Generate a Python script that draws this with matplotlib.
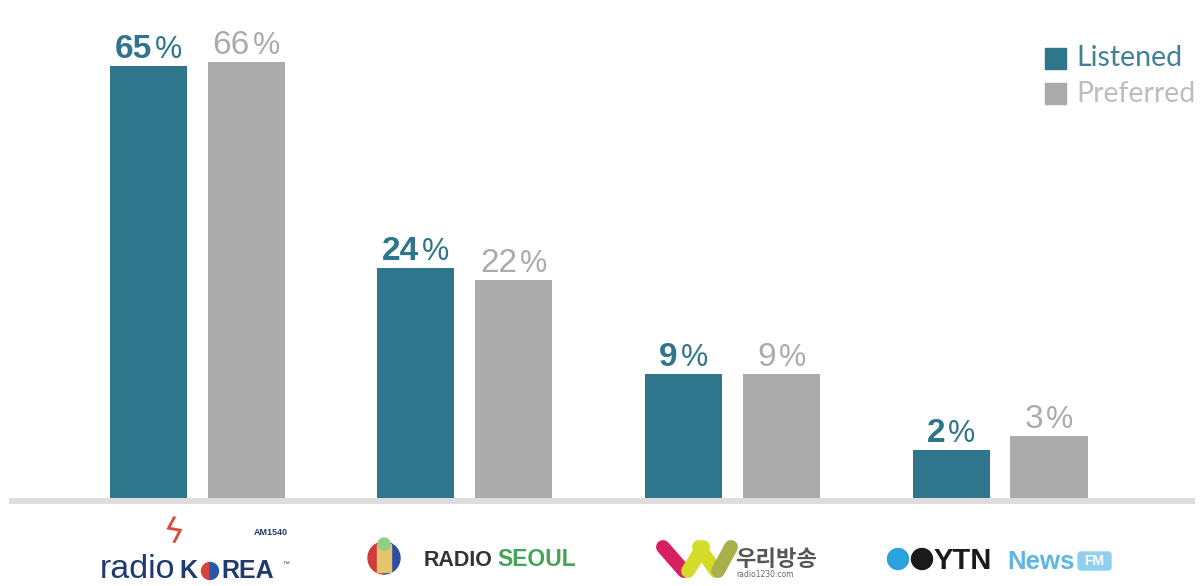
import numpy as np
import matplotlib
matplotlib.use("Agg")
import matplotlib.pyplot as plt
from matplotlib.patches import Rectangle, Circle, Wedge, FancyBboxPatch

# survey data (percent)
stations = ["radioKOREA", "RADIO SEOUL", "우리방송", "YTN News FM"]
listened = [65, 24, 9, 2]
preferred = [66, 22, 9, 3]
series_names = ["Listened", "Preferred"]

TEAL = "#2F758B"
GRAY = "#ABABAB"
W, H = 1201, 586

fig = plt.figure(figsize=(W / 100, H / 100), dpi=100)
ax = fig.add_axes([0, 88 / H, 1, 498 / H])
ax.axis("off")

# the infographic's bars are not linear in the values -> power scale
p = 0.631
ax.set_yscale("function", functions=(lambda v: np.power(np.clip(v, 0, None), p),
                                     lambda t: np.power(np.clip(t, 0, None), 1 / p)))
ax.set_ylim(0, 81.4)
ax.set_xlim(-0.737, 3.751)

x = np.arange(len(stations))
off, bw = 0.183, 0.288
ax.bar(x - off, listened, bw, color=TEAL, zorder=2)
ax.bar(x + off, preferred, bw, color=GRAY, zorder=2)

# baseline
ax.plot([0.0075, 0.995], [-0.006, -0.006], transform=ax.transAxes, color="#DDDDDD",
        lw=4.3, solid_capstyle="butt", clip_on=False, zorder=1)


def pct_label(xc, val, color, weight):
    s = str(val)
    num_fs, pct_fs = 24, 22
    num_w = len(s) * 0.556 * num_fs * 100 / 72
    pct_w = 0.889 * pct_fs * 100 / 72
    gap = 3
    left = -(num_w + gap + pct_w) / 2
    ax.annotate(s, (xc, val), xytext=(left, 8), textcoords="offset pixels",
                ha="left", va="baseline", fontsize=num_fs, color=color,
                family="Liberation Sans", fontweight=weight)
    ax.annotate("%", (xc, val), xytext=(left + num_w + gap, 8), textcoords="offset pixels",
                ha="left", va="baseline", fontsize=pct_fs, color=color,
                family="Liberation Sans")


for i in range(len(stations)):
    pct_label(x[i] - off, listened[i], TEAL, "bold")
    pct_label(x[i] + off, preferred[i], GRAY, "normal")

# overlay in pixel coordinates (origin top-left) for legend and logos
lx = fig.add_axes([0, 0, 1, 1], zorder=5)
lx.set_xlim(0, W)
lx.set_ylim(H, 0)
lx.axis("off")

# legend
for k, (name, c, tc) in enumerate(zip(series_names, [TEAL, GRAY], ["#3F8196", "#BDBDBD"])):
    y0 = 48 + 35 * k
    lx.add_patch(Rectangle((1045, y0), 21, 21, color=c))
    lx.text(1076, y0 + 10.5, name, fontsize=20.5, color=tc, va="center", family="Lato")

# --- station logos (approximations) ---
NAVY = "#1E3A6F"
RED = "#D9443A"
lf = dict(family="Liberation Sans", va="baseline")
lx.text(160, 545, "ϟ", fontsize=24, color=RED, va="baseline", rotation=-10)
lx.text(254, 535, "AM1540", fontsize=6.5, color=NAVY, fontweight="bold", **lf)
lx.text(100, 578, "radio", fontsize=24.5, color=NAVY, **lf)
lx.text(179, 578, "K", fontsize=18, color=NAVY, fontweight="bold", **lf)
lx.add_patch(Wedge((210, 571), 8.5, 90, 270, color=RED))
lx.add_patch(Wedge((210, 571), 8.5, 270, 90, color="#2A57A8"))
lx.text(221, 578, "REA", fontsize=18, color=NAVY, fontweight="bold", **lf)
lx.text(282, 566, "™", fontsize=5, color=NAVY, **lf)

# radio seoul icon
lx.add_patch(Wedge((384, 558), 16, 90, 270, color="#D33B3B"))
lx.add_patch(Wedge((384, 558), 16, 270, 90, color="#2D4FA3"))
lx.add_patch(Rectangle((377, 544), 14, 28, color="#E6C46A"))
lx.add_patch(Circle((384, 544), 6, color="#8FCF8A"))
lx.text(424, 566, "RADIO", fontsize=15.5, color="#333333", fontweight="bold", **lf)
lx.text(497, 566, "SEOUL", fontsize=16.5, color="#45A35A", fontweight="bold", **lf)

# 우리방송 logo
for (x0, y0, x1, y1, c) in [(663, 547, 684, 571, "#D91F5F"), (688, 571, 703, 547, "#D4DC2A"),
                            (699, 547, 716, 571, "#D4DC2A"), (718, 571, 731, 547, "#A7B04A")]:
    lx.plot([x0, x1], [y0, y1], lw=10, color=c, solid_capstyle="round")
lx.text(735, 566, "우리방송", fontsize=16, color="#555555", fontweight="bold",
        family="Noto Sans CJK KR", va="baseline")
lx.text(736, 577, "radio1230.com", fontsize=5.5, color="#666666", va="baseline")

# YTN News FM
lx.add_patch(Circle((898, 559), 10.5, color="#2BA3DE"))
lx.add_patch(Circle((922, 559), 10.5, color="#1A1A1A"))
lx.text(934, 569, "YTN", fontsize=21, color="#1A1A1A", fontweight="bold", **lf)
lx.text(1007, 569, "News", fontsize=18.5, color="#5DB6E3", fontweight="bold", **lf)
lx.add_patch(FancyBboxPatch((1078, 552), 33, 18, boxstyle="round,pad=0,rounding_size=3",
                            color="#8FD0F0"))
lx.text(1094.5, 561, "FM", fontsize=10, color="white", fontweight="bold", va="center",
        ha="center", family="Liberation Sans")

fig.savefig("out.png", dpi=100)
